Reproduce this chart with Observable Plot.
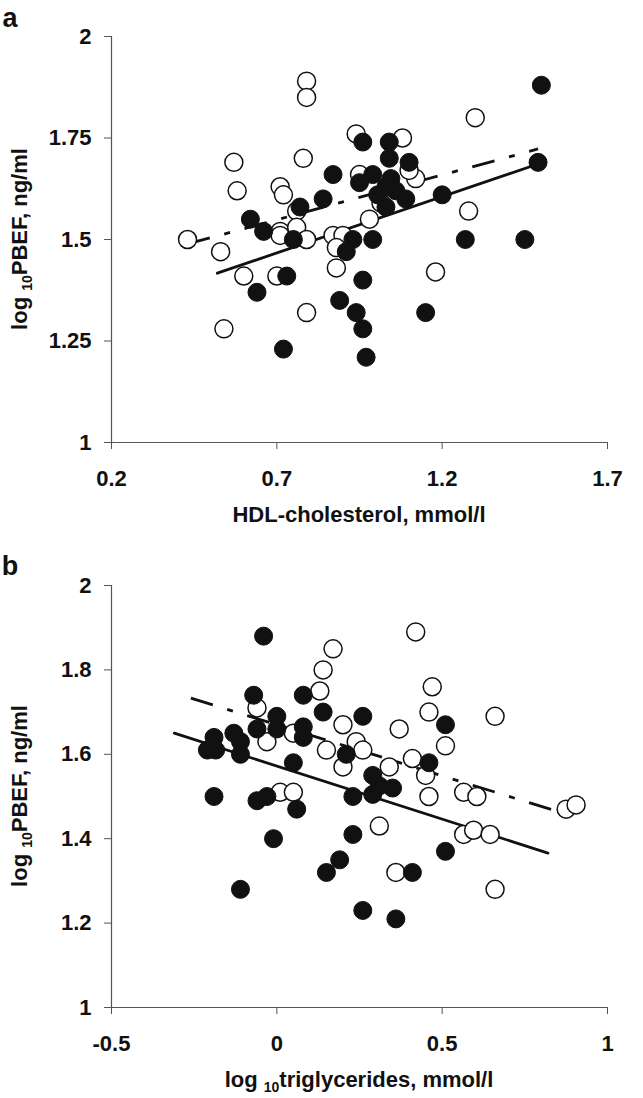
<!DOCTYPE html>
<html><head><meta charset="utf-8">
<script src="https://cdn.jsdelivr.net/npm/d3@7"></script>
<script src="https://cdn.jsdelivr.net/npm/@observablehq/plot@0.6"></script>
<style>
body{margin:0;background:#fff;}
#chart svg{display:block;}
</style>
</head><body><div id="chart"></div>
<script>
// ---------- Panel a: HDL-cholesterol ----------
const hdlOpenX = [0.79,0.79,1.30,0.94,1.08,0.57,0.78,0.58,0.71,0.72,0.95,1.12,1.10,0.76,0.98,1.28,0.43,0.53,0.71,0.76,0.71,0.79,0.87,0.90,0.88,0.60,0.70,0.88,1.18,0.79,0.54,1.015];
const hdlOpenY = [1.89,1.85,1.80,1.76,1.75,1.69,1.70,1.62,1.63,1.61,1.66,1.65,1.67,1.57,1.55,1.57,1.50,1.47,1.52,1.53,1.51,1.50,1.51,1.51,1.48,1.41,1.41,1.43,1.42,1.32,1.28,1.59];
const hdlFilledX = [1.50,0.96,1.04,1.04,1.10,0.87,0.95,0.99,1.045,1.005,1.06,1.09,1.03,1.20,1.49,0.84,0.77,0.62,0.66,0.75,0.93,0.99,0.91,1.27,1.45,0.73,0.64,0.96,0.89,0.94,0.96,0.72,0.97,1.15,1.03];
const hdlFilledY = [1.88,1.74,1.74,1.70,1.69,1.66,1.64,1.66,1.65,1.61,1.62,1.60,1.58,1.61,1.69,1.60,1.58,1.55,1.52,1.50,1.50,1.50,1.47,1.50,1.50,1.41,1.37,1.40,1.35,1.32,1.28,1.23,1.21,1.32,1.63];
const hdlSolidX = [0.52,1.49], hdlSolidY = [1.417,1.686];
const hdlDashX = [0.43,1.49], hdlDashY = [1.489,1.723];
const hdlXTicks = [0.2,0.7,1.2,1.7], hdlXTickLabels = ["0.2","0.7","1.2","1.7"];
const hdlYTicks = [1,1.25,1.5,1.75,2], hdlYTickLabels = ["1","1.25","1.5","1.75","2"];

// ---------- Panel b: log10 triglycerides ----------
const tgOpenX = [0.42,0.17,0.14,0.13,0.47,-0.06,0.46,0.66,0.20,0.37,0.05,-0.03,0.24,0.15,0.26,0.51,0.41,0.20,0.34,0.45,0.01,0.05,0.46,0.565,0.605,0.875,0.905,0.31,0.565,0.595,0.645,0.36,0.66];
const tgOpenY = [1.89,1.85,1.80,1.75,1.76,1.71,1.70,1.69,1.67,1.66,1.65,1.63,1.63,1.61,1.61,1.62,1.59,1.57,1.57,1.55,1.51,1.51,1.50,1.51,1.50,1.47,1.48,1.43,1.41,1.42,1.41,1.32,1.28];
const tgFilledX = [-0.04,-0.07,0.08,0.14,0.26,0.0,-0.06,0.0,0.08,0.08,-0.19,-0.13,-0.11,-0.21,-0.185,-0.11,0.51,0.05,0.21,0.46,0.29,-0.19,-0.06,-0.03,0.06,0.23,0.29,0.31,0.35,-0.01,0.23,0.19,0.15,0.41,0.51,-0.11,0.26,0.36];
const tgFilledY = [1.88,1.74,1.74,1.70,1.69,1.69,1.66,1.66,1.665,1.64,1.64,1.65,1.63,1.61,1.61,1.60,1.67,1.58,1.60,1.58,1.55,1.50,1.49,1.50,1.47,1.50,1.505,1.525,1.52,1.40,1.41,1.35,1.32,1.32,1.37,1.28,1.23,1.21];
const tgSolidX = [-0.31,0.82], tgSolidY = [1.65,1.366];
const tgDashX = [-0.26,0.905], tgDashY = [1.733,1.451];
const tgXTicks = [-0.5,0,0.5,1], tgXTickLabels = ["-0.5","0","0.5","1"];
const tgYTicks = [1,1.2,1.4,1.6,1.8,2], tgYTickLabels = ["1","1.2","1.4","1.6","1.8","2"];

const FONT = "'Liberation Sans', Arial, Helvetica, sans-serif";
const zip = (xs, ys) => xs.map((x, i) => ({x, y: ys[i]}));

function panel(o) {
  const xmin = o.xTicks[0], xmax = o.xTicks[o.xTicks.length - 1];
  const ymin = o.yTicks[0], ymax = o.yTicks[o.yTicks.length - 1];
  const svg = Plot.plot({
    width: 643, height: o.height,
    marginLeft: 111, marginRight: 36, marginTop: o.marginTop, marginBottom: o.marginBottom,
    style: {fontFamily: FONT, fontSize: "22px", fontWeight: "bold", color: "#111", background: "#fff"},
    x: {domain: [xmin, xmax]},
    y: {domain: [ymin, ymax]},
    marks: [
      Plot.ruleX([xmin], {y1: ymin, y2: ymax, stroke: "#555", strokeWidth: 1.2}),
      Plot.ruleY([ymin], {x1: xmin, x2: xmax, stroke: "#555", strokeWidth: 1.2}),
      Plot.axisX({ticks: o.xTicks, tickSize: 7, tickPadding: 21, stroke: "#555", label: null,
        tickFormat: (d, i) => o.xTickLabels[i], fill: "#111"}),
      Plot.axisY({ticks: o.yTicks, tickSize: 7, tickPadding: 13, stroke: "#555", label: null,
        tickFormat: (d, i) => o.yTickLabels[i], fill: "#111"}),
      Plot.line(zip(o.dashX, o.dashY), {x: "x", y: "y", stroke: "#111", strokeWidth: 2.8, strokeDasharray: "23,15,6,15", strokeLinecap: "butt"}),
      Plot.line(zip(o.solidX, o.solidY), {x: "x", y: "y", stroke: "#111", strokeWidth: 2.8}),
      Plot.dot(zip(o.openX, o.openY), {x: "x", y: "y", r: 9, fill: "#fff", stroke: "#111", strokeWidth: 1.5}),
      Plot.dot(zip(o.filledX, o.filledY), {x: "x", y: "y", r: 9, fill: "#111", stroke: "#111", strokeWidth: 1})
    ]
  });
  const s = d3.select(svg);
  s.append("text").attr("x", 10).attr("y", o.letterY)
    .attr("font-size", 27).attr("font-weight", "bold").attr("font-family", FONT).attr("fill", "#111")
    .text(o.letter);
  const cy = (o.marginTop + (o.height - o.marginBottom)) / 2;
  const yl = s.append("text").attr("transform", `translate(27,${cy}) rotate(-90)`)
    .attr("text-anchor", "middle").attr("font-size", 22).attr("font-weight", "bold")
    .attr("font-family", FONT).attr("fill", "#111");
  yl.append("tspan").text("log ");
  yl.append("tspan").attr("font-size", 14).attr("dy", 5).text("10");
  yl.append("tspan").attr("dy", -5).text("PBEF, ng/ml");
  const xl = s.append("text").attr("x", 359).attr("y", o.xLabelY)
    .attr("text-anchor", "middle").attr("font-size", 22).attr("font-weight", "bold")
    .attr("font-family", FONT).attr("fill", "#111");
  if (o.xLabelSub) {
    xl.append("tspan").text(o.xLabelPre);
    xl.append("tspan").attr("font-size", 14).attr("dy", 5).text(o.xLabelSub);
    xl.append("tspan").attr("dy", -5).text(o.xLabelPost);
  } else {
    xl.text(o.xLabelPre);
  }
  return svg;
}

const chart = document.getElementById("chart");
chart.appendChild(panel({
  letter: "a", letterY: 27, height: 545, marginTop: 36, marginBottom: 103,
  openX: hdlOpenX, openY: hdlOpenY, filledX: hdlFilledX, filledY: hdlFilledY,
  solidX: hdlSolidX, solidY: hdlSolidY, dashX: hdlDashX, dashY: hdlDashY,
  xTicks: hdlXTicks, xTickLabels: hdlXTickLabels, yTicks: hdlYTicks, yTickLabels: hdlYTickLabels,
  xLabelPre: "HDL-cholesterol, mmol/l", xLabelY: 522
}));
chart.appendChild(panel({
  letter: "b", letterY: 30, height: 553, marginTop: 40, marginBottom: 91,
  openX: tgOpenX, openY: tgOpenY, filledX: tgFilledX, filledY: tgFilledY,
  solidX: tgSolidX, solidY: tgSolidY, dashX: tgDashX, dashY: tgDashY,
  xTicks: tgXTicks, xTickLabels: tgXTickLabels, yTicks: tgYTicks, yTickLabels: tgYTickLabels,
  xLabelPre: "log ", xLabelSub: "10", xLabelPost: "triglycerides, mmol/l", xLabelY: 542
}));
</script>
</body></html>
